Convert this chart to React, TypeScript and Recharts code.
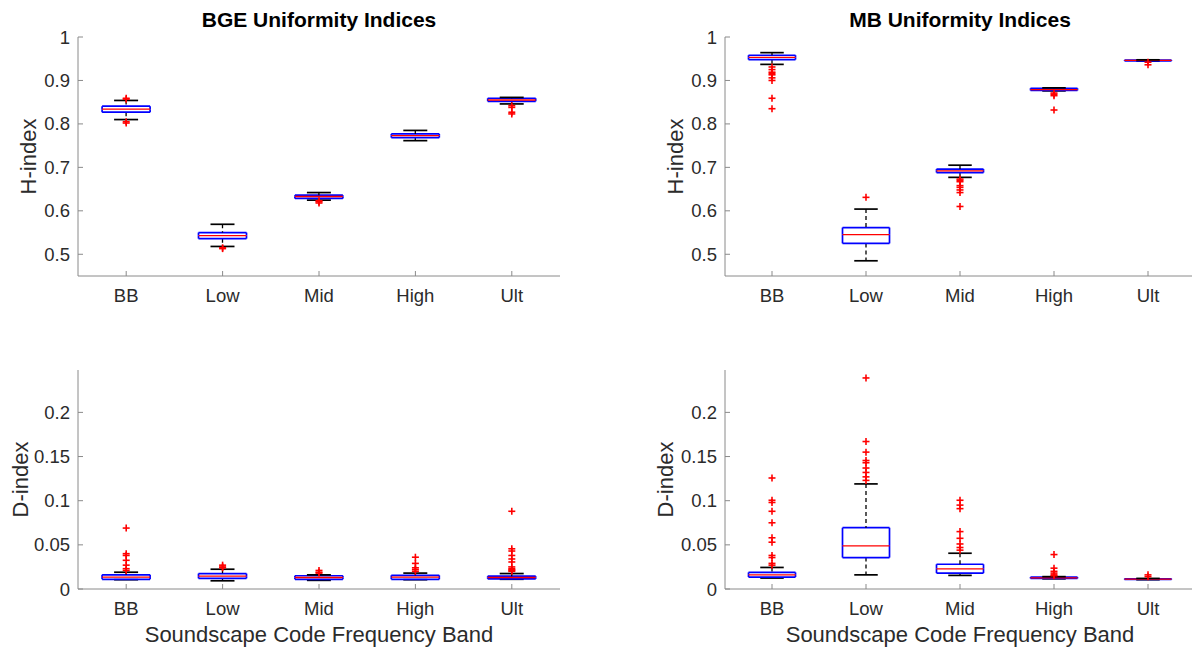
import React from 'react';
import { ComposedChart, Bar, Scatter, XAxis, YAxis } from 'recharts';

// ---------- data ----------
const bands = ['BB', 'Low', 'Mid', 'High', 'Ult'];

// BGE H-index
const bgeHWhiskerLow = [0.81, 0.518, 0.6246, 0.7615, 0.846];
const bgeHQ1 = [0.827, 0.536, 0.6285, 0.7685, 0.852];
const bgeHMedian = [0.834, 0.543, 0.633, 0.773, 0.855];
const bgeHQ3 = [0.8408, 0.55, 0.636, 0.777, 0.859];
const bgeHWhiskerHigh = [0.854, 0.569, 0.642, 0.785, 0.861];
const bgeHOutliers = [
  [0.802, 0.805, 0.857, 0.859],
  [0.513, 0.515],
  [0.618, 0.621, 0.623],
  [],
  [0.842, 0.838, 0.827, 0.823],
];

// MB H-index
const mbHWhiskerLow = [0.937, 0.485, 0.677, 0.876, 0.9445];
const mbHQ1 = [0.948, 0.525, 0.688, 0.877, 0.9452];
const mbHMedian = [0.953, 0.545, 0.692, 0.879, 0.946];
const mbHQ3 = [0.958, 0.5615, 0.696, 0.882, 0.9468];
const mbHWhiskerHigh = [0.964, 0.604, 0.705, 0.883, 0.9475];
const mbHOutliers = [
  [0.931, 0.925, 0.919, 0.916, 0.913, 0.906, 0.9, 0.859, 0.835],
  [0.631],
  [0.673, 0.67, 0.667, 0.658, 0.654, 0.648, 0.642, 0.61],
  [0.871, 0.868, 0.865, 0.832],
  [0.942, 0.936],
];

// BGE D-index
const bgeDWhiskerLow = [0.0105, 0.0093, 0.0098, 0.0105, 0.011];
const bgeDQ1 = [0.011, 0.012, 0.011, 0.011, 0.0115];
const bgeDMedian = [0.0135, 0.0145, 0.013, 0.0135, 0.013];
const bgeDQ3 = [0.016, 0.0175, 0.015, 0.0155, 0.0145];
const bgeDWhiskerHigh = [0.019, 0.0224, 0.016, 0.018, 0.0175];
const bgeDOutliers = [
  [0.069, 0.04, 0.038, 0.0325, 0.027, 0.023, 0.021],
  [0.024, 0.025, 0.027],
  [0.018, 0.019, 0.021],
  [0.036, 0.029, 0.024, 0.022, 0.02],
  [0.088, 0.0455, 0.043, 0.038, 0.034, 0.0306, 0.025, 0.023, 0.022, 0.021, 0.02],
];

// MB D-index
const mbDWhiskerLow = [0.0124, 0.016, 0.0154, 0.0115, 0.0105];
const mbDQ1 = [0.0135, 0.0356, 0.018, 0.012, 0.011];
const mbDMedian = [0.016, 0.0488, 0.0229, 0.0125, 0.0112];
const mbDQ3 = [0.0188, 0.0694, 0.028, 0.0135, 0.0115];
const mbDWhiskerHigh = [0.0244, 0.119, 0.0405, 0.014, 0.012];
const mbDOutliers = [
  [0.1257, 0.1005, 0.098, 0.088, 0.075, 0.058, 0.053, 0.038, 0.0356, 0.029, 0.027],
  [0.239, 0.167, 0.155, 0.1455, 0.143, 0.137, 0.132, 0.127, 0.123],
  [0.1005, 0.095, 0.091, 0.065, 0.0574, 0.051, 0.047, 0.044],
  [0.039, 0.0236, 0.02, 0.018, 0.016, 0.015],
  [0.016, 0.014],
];

const hTicks = [0.5, 0.6, 0.7, 0.8, 0.9, 1];
const hDomain = [0.45, 1];
const dTicks = [0, 0.05, 0.1, 0.15, 0.2];
const dDomain = [0, 0.248];

// ---------- styling ----------
const FONT = '"Liberation Sans", Arial, Helvetica, sans-serif';
const FRAME = '#8a8a8a';
const TEXT = '#2b2b2b';
const BLUE = '#0000ff';
const RED = '#ff0000';

function buildRows(lo: number[], q1: number[], med: number[], q3: number[], hi: number[]) {
  return bands.map((b, i) => ({
    band: b,
    base: lo[i],
    lw: q1[i] - lo[i],
    bl: med[i] - q1[i],
    bu: q3[i] - med[i],
    uw: hi[i] - q3[i],
  }));
}

function buildOutliers(out: number[][]) {
  const res: { band: string; v: number }[] = [];
  out.forEach((arr, i) => arr.forEach((v) => res.push({ band: bands[i], v })));
  return res;
}

const Empty = () => <g />;

const LowerWhisker = (p: any) => {
  const { x, y, width, height } = p;
  if (x == null || y == null) return <g />;
  const cx = x + width / 2;
  const cap = width / 4;
  return (
    <g>
      <line x1={cx} x2={cx} y1={y} y2={y + height} stroke="#000" strokeWidth={1.3} strokeDasharray="4 3" />
      <line x1={cx - cap} x2={cx + cap} y1={y + height} y2={y + height} stroke="#000" strokeWidth={1.7} />
    </g>
  );
};

const UpperWhisker = (p: any) => {
  const { x, y, width, height } = p;
  if (x == null || y == null) return <g />;
  const cx = x + width / 2;
  const cap = width / 4;
  return (
    <g>
      <line x1={cx} x2={cx} y1={y} y2={y + height} stroke="#000" strokeWidth={1.3} strokeDasharray="4 3" />
      <line x1={cx - cap} x2={cx + cap} y1={y} y2={y} stroke="#000" strokeWidth={1.7} />
    </g>
  );
};

const BoxLower = (p: any) => {
  const { x, y, width, height } = p;
  if (x == null || y == null) return <g />;
  return (
    <g>
      <line x1={x} x2={x} y1={y} y2={y + height} stroke={BLUE} strokeWidth={1.7} />
      <line x1={x + width} x2={x + width} y1={y} y2={y + height} stroke={BLUE} strokeWidth={1.7} />
      <line x1={x} x2={x + width} y1={y + height} y2={y + height} stroke={BLUE} strokeWidth={1.7} />
    </g>
  );
};

const BoxUpper = (p: any) => {
  const { x, y, width, height } = p;
  if (x == null || y == null) return <g />;
  return (
    <g>
      <line x1={x} x2={x} y1={y} y2={y + height} stroke={BLUE} strokeWidth={1.7} />
      <line x1={x + width} x2={x + width} y1={y} y2={y + height} stroke={BLUE} strokeWidth={1.7} />
      <line x1={x} x2={x + width} y1={y} y2={y} stroke={BLUE} strokeWidth={1.7} />
      <line x1={x} x2={x + width} y1={y + height} y2={y + height} stroke={RED} strokeWidth={1.3} />
    </g>
  );
};

const Plus = (p: any) => {
  const { cx, cy } = p;
  if (cx == null || cy == null) return <g />;
  const r = 3.5;
  return (
    <g>
      <line x1={cx - r} x2={cx + r} y1={cy} y2={cy} stroke={RED} strokeWidth={1.6} />
      <line x1={cx} x2={cx} y1={cy - r} y2={cy + r} stroke={RED} strokeWidth={1.6} />
    </g>
  );
};

type PanelProps = {
  left: number;
  top: number;
  w: number;
  h: number;
  plotLeft: number;
  plotTop: number;
  plotW: number;
  plotH: number;
  domain: number[];
  ticks: number[];
  rows: any[];
  outliers: { band: string; v: number }[];
};

function Panel(props: PanelProps) {
  const { left, top, w, h, plotLeft, plotTop, plotW, plotH, domain, ticks, rows, outliers } = props;
  const yW = 60;
  const xH = h - plotTop - plotH;
  const margin = { top: plotTop, left: plotLeft - yW, right: w - plotLeft - plotW, bottom: 0 };
  const tickStyle = { fill: TEXT, fontSize: 18.5, fontFamily: FONT };
  return (
    <div style={{ position: 'absolute', left, top, width: w, height: h }}>
      <ComposedChart width={w} height={h} data={rows} margin={margin} barCategoryGap="25%">
        <XAxis
          dataKey="band"
          type="category"
          allowDuplicatedCategory={false}
          height={xH}
          stroke={FRAME}
          tickSize={-5}
          tickMargin={18}
          tick={tickStyle}
          interval={0}
        />
        <XAxis
          xAxisId="top"
          dataKey="band"
          type="category"
          allowDuplicatedCategory={false}
          orientation="top"
          height={0}
          stroke={FRAME}
          tickSize={-5}
          tick={false}
          interval={0}
        />
        <YAxis
          type="number"
          domain={domain}
          ticks={ticks}
          allowDataOverflow
          width={yW}
          stroke={FRAME}
          tickSize={-5}
          tickMargin={13}
          tick={tickStyle}
          interval={0}
        />
        <YAxis
          yAxisId="right"
          orientation="right"
          type="number"
          domain={domain}
          ticks={ticks}
          allowDataOverflow
          width={0}
          stroke={FRAME}
          tickSize={-5}
          tick={false}
          interval={0}
        />
        <Bar dataKey="base" stackId="b" shape={Empty} isAnimationActive={false} />
        <Bar dataKey="lw" stackId="b" shape={LowerWhisker} isAnimationActive={false} />
        <Bar dataKey="bl" stackId="b" shape={BoxLower} isAnimationActive={false} />
        <Bar dataKey="bu" stackId="b" shape={BoxUpper} isAnimationActive={false} />
        <Bar dataKey="uw" stackId="b" shape={UpperWhisker} isAnimationActive={false} />
        <Scatter data={outliers} dataKey="v" shape={Plus} isAnimationActive={false} />
      </ComposedChart>
    </div>
  );
}

export default function App() {
  const bgeH = buildRows(bgeHWhiskerLow, bgeHQ1, bgeHMedian, bgeHQ3, bgeHWhiskerHigh);
  const mbH = buildRows(mbHWhiskerLow, mbHQ1, mbHMedian, mbHQ3, mbHWhiskerHigh);
  const bgeD = buildRows(bgeDWhiskerLow, bgeDQ1, bgeDMedian, bgeDQ3, bgeDWhiskerHigh);
  const mbD = buildRows(mbDWhiskerLow, mbDQ1, mbDMedian, mbDQ3, mbDWhiskerHigh);

  const labelStyle = { fontFamily: FONT, fontSize: 22, fill: TEXT } as const;

  return (
    <div
      style={{
        position: 'absolute',
        left: 0,
        top: 0,
        width: 1192,
        height: 651,
        overflow: 'hidden',
        background: '#fff',
      }}
    >
      <Panel left={0} top={0} w={600} h={320} plotLeft={78} plotTop={37} plotW={482} plotH={239}
        domain={hDomain} ticks={hTicks} rows={bgeH} outliers={buildOutliers(bgeHOutliers)} />
      <Panel left={600} top={0} w={600} h={320} plotLeft={125} plotTop={37} plotW={470} plotH={239}
        domain={hDomain} ticks={hTicks} rows={mbH} outliers={buildOutliers(mbHOutliers)} />
      <Panel left={0} top={320} w={600} h={331} plotLeft={78} plotTop={50} plotW={482} plotH={219}
        domain={dDomain} ticks={dTicks} rows={bgeD} outliers={buildOutliers(bgeDOutliers)} />
      <Panel left={600} top={320} w={600} h={331} plotLeft={125} plotTop={50} plotW={470} plotH={219}
        domain={dDomain} ticks={dTicks} rows={mbD} outliers={buildOutliers(mbDOutliers)} />

      <svg width={1192} height={651} style={{ position: 'absolute', left: 0, top: 0, pointerEvents: 'none' }}>
        <text x={319} y={26.5} textAnchor="middle" fontFamily={FONT} fontSize={21} fontWeight="bold" fill="#000">
          BGE Uniformity Indices
        </text>
        <text x={960} y={26.5} textAnchor="middle" fontFamily={FONT} fontSize={21} fontWeight="bold" fill="#000">
          MB Uniformity Indices
        </text>
        <text transform="translate(36,156.5) rotate(-90)" textAnchor="middle" {...labelStyle}>H-index</text>
        <text transform="translate(683,156.5) rotate(-90)" textAnchor="middle" {...labelStyle}>H-index</text>
        <text transform="translate(28,479.5) rotate(-90)" textAnchor="middle" {...labelStyle}>D-index</text>
        <text transform="translate(673,479.5) rotate(-90)" textAnchor="middle" {...labelStyle}>D-index</text>
        <text x={319} y={642} textAnchor="middle" {...labelStyle}>Soundscape Code Frequency Band</text>
        <text x={960} y={642} textAnchor="middle" {...labelStyle}>Soundscape Code Frequency Band</text>
      </svg>
    </div>
  );
}
